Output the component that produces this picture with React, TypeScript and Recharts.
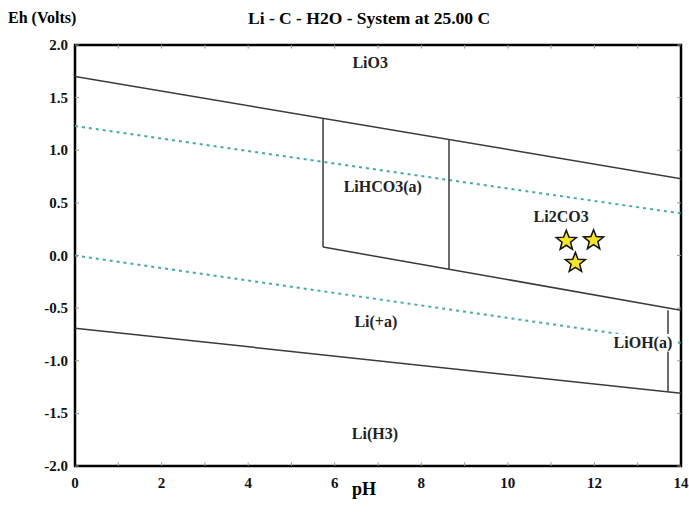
import React from "react";
import {
  ComposedChart,
  Line,
  Scatter,
  XAxis,
  YAxis,
  ReferenceLine,
  ReferenceArea,
  ReferenceDot,
} from "recharts";

// pH axis ticks
const xTicks = [0, 2, 4, 6, 8, 10, 12, 14];
const xMinorTicks = [1, 2, 3, 4, 5, 6, 7, 8, 9, 10, 11, 12, 13];
// Eh axis ticks
const yTicks = [-2, -1.5, -1, -0.5, 0, 0.5, 1, 1.5, 2];

// phase boundaries (pH, Eh)
const upperBoundary = [
  { ph: 0, eh: 1.7 },
  { ph: 14, eh: 0.73 },
];
const lowerBoundary = [
  { ph: 0, eh: -0.69 },
  { ph: 14, eh: -1.31 },
];
const carbonateBoundary = [
  { ph: 5.73, eh: 0.08 },
  { ph: 8.64, eh: -0.13 },
  { ph: 14, eh: -0.52 },
];
const leftBicarbEdge = [
  { ph: 5.73, eh: 1.3 },
  { ph: 5.73, eh: 0.08 },
];
const rightBicarbEdge = [
  { ph: 8.64, eh: 1.1 },
  { ph: 8.64, eh: -0.13 },
];
const hydroxideEdge = [
  { ph: 13.7, eh: -0.52 },
  { ph: 13.7, eh: -1.29 },
];

// water stability lines
const oxygenLine = [
  { ph: 0, eh: 1.23 },
  { ph: 14, eh: 0.4 },
];
const hydrogenLine = [
  { ph: 0, eh: 0 },
  { ph: 14, eh: -0.83 },
];

// sample points
const samples = [
  { ph: 11.35, eh: 0.14 },
  { ph: 11.98, eh: 0.145 },
  { ph: 11.56, eh: -0.07 },
];

// region labels
const regionLabels = [
  { name: "LiO3", ph: 6.82, eh: 1.83 },
  { name: "LiHCO3(a)", ph: 7.11, eh: 0.66 },
  { name: "Li2CO3", ph: 11.23, eh: 0.375 },
  { name: "Li(+a)", ph: 6.95, eh: -0.63 },
  { name: "Li(H3)", ph: 6.93, eh: -1.69 },
];
const lioh = { name: "LiOH(a)", ph: 13.12, eh: -0.83 };

const FONT = "'Liberation Serif', 'Times New Roman', serif";
const LINE = "#3a3a3a";
const WATER = "#45aaa8";

const textStyle: React.CSSProperties = {
  fontFamily: FONT,
  fontWeight: 700,
  fontSize: 15,
  fill: "#111",
};

const Star = (props: any) => {
  const { cx, cy } = props;
  const pts: string[] = [];
  for (let i = 0; i < 10; i++) {
    const r = i % 2 === 0 ? 10.5 : 4.5;
    const a = -Math.PI / 2 + (i * Math.PI) / 5;
    pts.push(`${cx + r * Math.cos(a)},${cy + r * Math.sin(a)}`);
  }
  return (
    <polygon
      points={pts.join(" ")}
      fill="#f2e52a"
      stroke="#111"
      strokeWidth={1.5}
      strokeLinejoin="miter"
    />
  );
};

const RegionText = (props: any) => {
  const { cx, cy, name, boxed } = props;
  return (
    <g>
      {boxed && (
        <rect x={cx - 31} y={cy - 9} width={62} height={18} fill="#fff" />
      )}
      <text
        x={cx}
        y={cy}
        textAnchor="middle"
        dominantBaseline="central"
        style={{ ...textStyle, fontSize: 16, fill: "#222" }}
      >
        {name}
      </text>
    </g>
  );
};

const XTick = (props: any) => {
  const { x, y, payload } = props;
  return (
    <text x={x} y={y + 22} textAnchor="middle" style={textStyle}>
      {payload.value}
    </text>
  );
};

const YTick = (props: any) => {
  const { x, y, payload } = props;
  return (
    <text x={x} y={y + 5} textAnchor="end" style={textStyle}>
      {Number(payload.value).toFixed(1)}
    </text>
  );
};

const boundaries = [
  upperBoundary,
  lowerBoundary,
  carbonateBoundary,
  leftBicarbEdge,
  rightBicarbEdge,
  hydroxideEdge,
];

export default function App() {
  return (
    <div style={{ position: "relative", width: 689, height: 526, background: "#fff" }}>
      <style>{"body{margin:0}"}</style>
      <div
        style={{
          position: "absolute",
          left: 8,
          top: 9,
          fontFamily: FONT,
          fontWeight: "bold",
          fontSize: 16,
        }}
      >
        Eh (Volts)
      </div>
      <div
        style={{
          position: "absolute",
          left: 0,
          width: 738,
          top: 8,
          textAlign: "center",
          fontFamily: FONT,
          fontWeight: "bold",
          fontSize: 17.5,
        }}
      >
        Li - C - H2O - System at 25.00 C
      </div>
      <div
        style={{
          position: "absolute",
          left: 0,
          width: 728,
          top: 479,
          textAlign: "center",
          fontFamily: FONT,
          fontWeight: "bold",
          fontSize: 18,
        }}
      >
        pH
      </div>
      <ComposedChart
        width={689}
        height={526}
        margin={{ top: 45, right: 8, bottom: 30, left: 35 }}
      >
        <XAxis
          type="number"
          dataKey="ph"
          domain={[0, 14]}
          ticks={xTicks}
          allowDataOverflow
          axisLine={false}
          tickLine={false}
          tickSize={0}
          tickMargin={0}
          height={30}
          tick={<XTick />}
        />
        <YAxis
          type="number"
          dataKey="eh"
          domain={[-2, 2]}
          ticks={yTicks}
          allowDataOverflow
          axisLine={false}
          tickLine={false}
          tickSize={0}
          tickMargin={7}
          width={40}
          tick={<YTick />}
        />
        {xMinorTicks.map((t) => (
          <ReferenceLine
            key={`xb${t}`}
            segment={[
              { x: t, y: -2 },
              { x: t, y: -1.965 },
            ]}
            stroke="#999"
          />
        ))}
        {xMinorTicks.map((t) => (
          <ReferenceLine
            key={`xt${t}`}
            segment={[
              { x: t, y: 2 },
              { x: t, y: 1.965 },
            ]}
            stroke="#999"
          />
        ))}
        {yTicks.map((t) => (
          <ReferenceLine
            key={`yl${t}`}
            segment={[
              { x: 0, y: t },
              { x: 0.09, y: t },
            ]}
            stroke="#999"
          />
        ))}
        {yTicks.map((t) => (
          <ReferenceLine
            key={`yr${t}`}
            segment={[
              { x: 13.91, y: t },
              { x: 14, y: t },
            ]}
            stroke="#999"
          />
        ))}
        <Line
          data={oxygenLine}
          dataKey="eh"
          stroke={WATER}
          strokeWidth={2}
          strokeDasharray="3 4"
          dot={false}
          isAnimationActive={false}
        />
        <Line
          data={hydrogenLine}
          dataKey="eh"
          stroke={WATER}
          strokeWidth={2}
          strokeDasharray="3 4"
          dot={false}
          isAnimationActive={false}
        />
        {boundaries.map((b, i) => (
          <Line
            key={`b${i}`}
            data={b}
            dataKey="eh"
            type="linear"
            stroke={LINE}
            strokeWidth={1.5}
            dot={false}
            isAnimationActive={false}
          />
        ))}
        {regionLabels.map((l) => (
          <ReferenceDot
            key={l.name}
            x={l.ph}
            y={l.eh}
            r={0}
            shape={(p: any) => <RegionText {...p} name={l.name} />}
          />
        ))}
        <ReferenceDot
          x={lioh.ph}
          y={lioh.eh}
          r={0}
          shape={(p: any) => <RegionText {...p} name={lioh.name} boxed />}
        />
        <Scatter data={samples} dataKey="eh" shape={Star} isAnimationActive={false} />
        <ReferenceArea
          x1={0}
          x2={14}
          y1={-2}
          y2={2}
          fill="none"
          stroke="#000"
          strokeWidth={2.5}
          ifOverflow="visible"
        />
      </ComposedChart>
    </div>
  );
}
